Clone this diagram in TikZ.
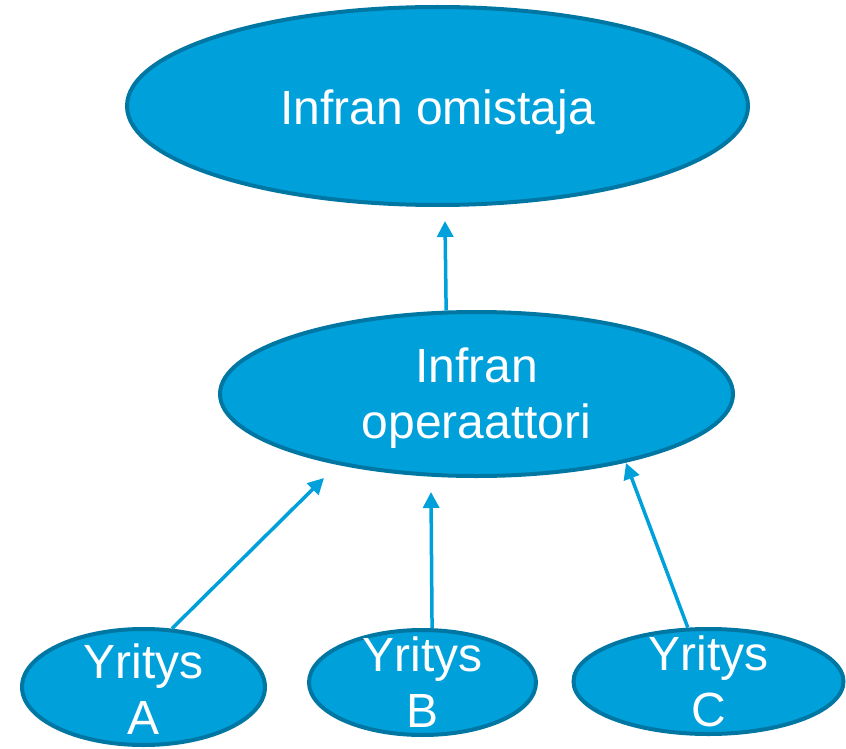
\documentclass[tikz,border=0pt]{standalone}
\usepackage{fontspec}
\setmainfont{Liberation Sans}
\usetikzlibrary{shapes.geometric,arrows.meta}
\definecolor{blob}{RGB}{0,160,219}
\definecolor{blobedge}{RGB}{0,118,163}

\begin{document}
\begin{tikzpicture}[x=1pt,y=-1pt,
    party/.style={ellipse,draw=blobedge,fill=blob,line width=4pt,inner sep=0pt},
    lbl/.style={text=white,align=center,font=\fontsize{48}{56}\selectfont},
    link/.style={draw=blob,line width=3.5pt,-{Triangle[width=16pt,length=16pt]}}]
  \useasboundingbox (0,0) rectangle (846,749);

  % ellipses
  \node[party,minimum width=621pt,minimum height=198pt] (owner) at (437.5,106) {};
  \node[party,minimum width=513pt,minimum height=164pt] (oper) at (476.5,394) {};
  \node[party,minimum width=243pt,minimum height=116pt] (ya) at (143.5,687) {};
  \node[party,minimum width=227pt,minimum height=105pt] (yb) at (422.5,682.5) {};
  \node[party,minimum width=270pt,minimum height=105pt] (yc) at (708.5,681.5) {};

  % texts
  \node[lbl] (owner-t) at ([yshift=-6pt]owner.center) {Infran omistaja};
  \node[lbl] (oper-t) at ([yshift=-4pt]oper.center) {Infran\\operaattori};
  \node[lbl] (ya-t) at ([yshift=-2pt]ya.center) {Yritys\\A};
  \node[lbl] (yb-t) at (yb) {Yritys\\B};
  \node[lbl] (yc-t) at (yc) {Yritys\\C};

  % arrow tips
  \coordinate (tip0) at (445,221);
  \coordinate (tipA) at (324,478);
  \coordinate (tipB) at (431,492);
  \coordinate (tipC) at (626,463);

  \draw[link] (oper.110) -- (tip0);
  \draw[link] (ya.64) -- (tipA);
  \draw[link] (yb.80) -- (tipB);
  \draw[link] (yc.111) -- (tipC);
\end{tikzpicture}
\end{document}
